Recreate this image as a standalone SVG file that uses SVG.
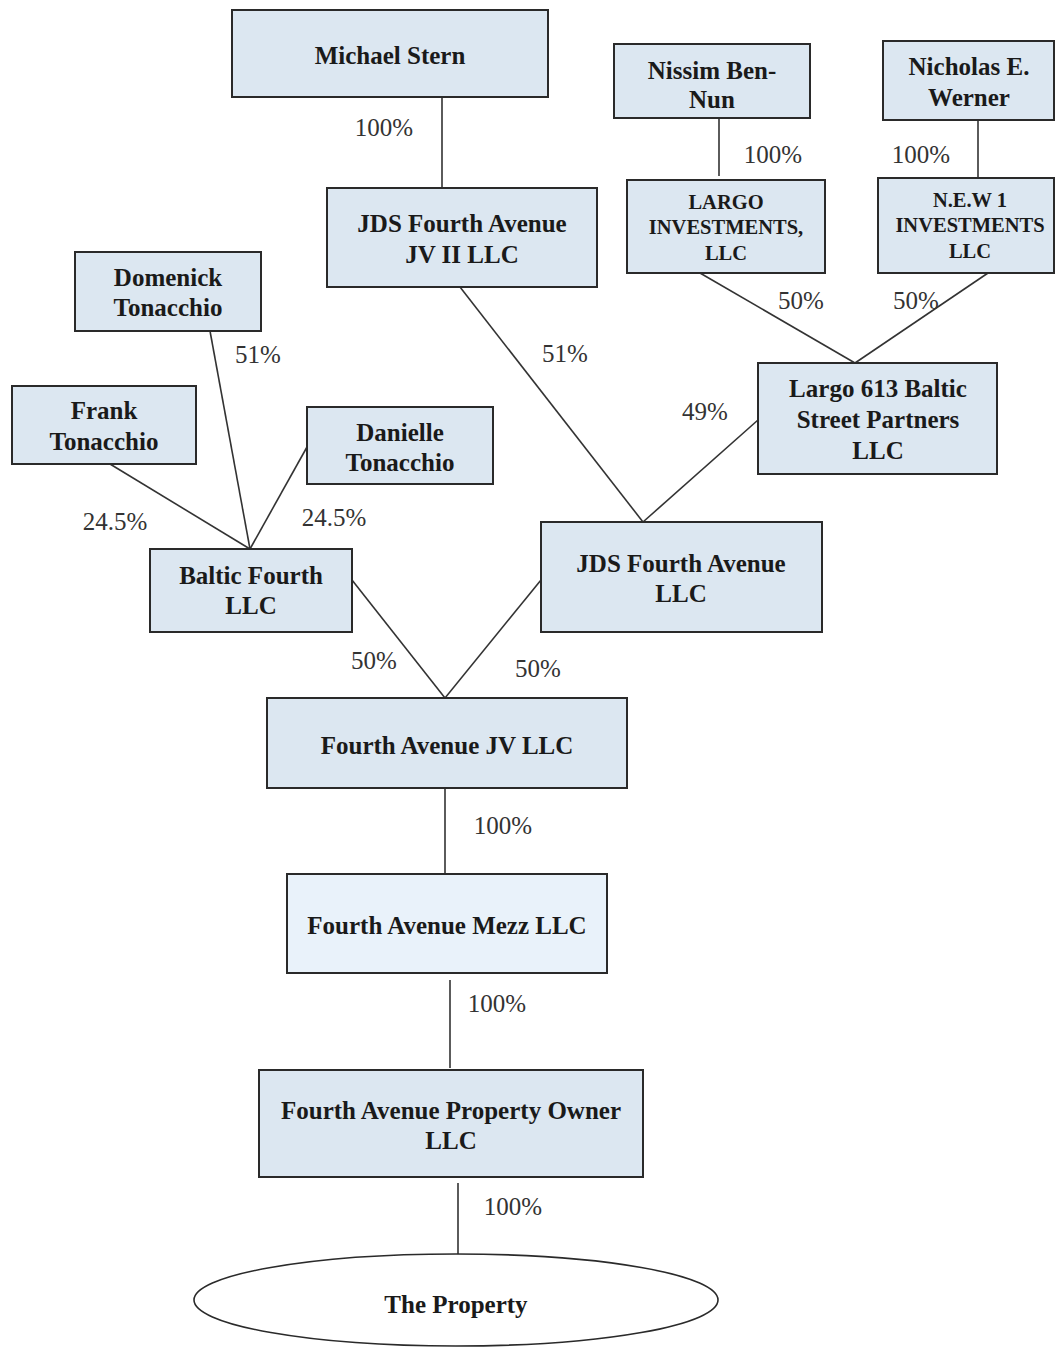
<svg xmlns="http://www.w3.org/2000/svg" width="1055" height="1347" viewBox="0 0 1055 1347">
<style>
.box{fill:#dce7f1;stroke:#2a2a2a;stroke-width:2}
.light{fill:#e9f2fa}
.t{font-family:"Liberation Serif","Times New Roman",serif;font-weight:bold;font-size:25px;fill:#1a1a1a;text-anchor:middle}
.s{font-size:20.5px}
.p{font-family:"Liberation Serif","Times New Roman",serif;font-size:25px;fill:#333;text-anchor:middle}
.c{stroke:#333;stroke-width:1.6;fill:none}
</style>
<rect width="1055" height="1347" fill="#fff"/>
<g id="connectors">
<line class="c" x1="442" y1="97" x2="442" y2="188"/>
<line class="c" x1="719" y1="118" x2="719" y2="176"/>
<line class="c" x1="978" y1="120" x2="978" y2="178"/>
<line class="c" x1="700" y1="273" x2="855" y2="363"/>
<line class="c" x1="988" y1="273" x2="855" y2="363"/>
<line class="c" x1="460" y1="287" x2="643" y2="522"/>
<line class="c" x1="758" y1="420" x2="643" y2="522"/>
<line class="c" x1="210" y1="331" x2="250" y2="549"/>
<line class="c" x1="110" y1="464" x2="250" y2="549"/>
<line class="c" x1="307" y1="447" x2="250" y2="549"/>
<line class="c" x1="352" y1="580" x2="445" y2="698"/>
<line class="c" x1="541" y1="580" x2="445" y2="698"/>
<line class="c" x1="445" y1="788" x2="445" y2="874"/>
<line class="c" x1="450" y1="980" x2="450" y2="1068"/>
<line class="c" x1="458" y1="1183" x2="458" y2="1254"/>
<text class="p" x="384" y="136">100%</text>
<text class="p" x="773" y="163">100%</text>
<text class="p" x="921" y="163">100%</text>
<text class="p" x="801" y="309">50%</text>
<text class="p" x="916" y="309">50%</text>
<text class="p" x="565" y="362">51%</text>
<text class="p" x="705" y="420">49%</text>
<text class="p" x="258" y="363">51%</text>
<text class="p" x="115" y="530">24.5%</text>
<text class="p" x="334" y="526">24.5%</text>
<text class="p" x="374" y="669">50%</text>
<text class="p" x="538" y="677">50%</text>
<text class="p" x="503" y="834">100%</text>
<text class="p" x="497" y="1012">100%</text>
<text class="p" x="513" y="1215">100%</text>
</g>
<g id="michael-stern"><rect class="box" x="232" y="10" width="316" height="87"/><text class="t" x="390" y="64">Michael Stern</text></g>
<g id="jds-jv-ii"><rect class="box" x="327" y="188" width="270" height="99"/><text class="t" x="462" y="232">JDS Fourth Avenue</text><text class="t" x="462" y="263">JV II LLC</text></g>
<g id="nissim"><rect class="box" x="614" y="44" width="196" height="74"/><text class="t" x="712" y="79">Nissim Ben-</text><text class="t" x="712" y="108">Nun</text></g>
<g id="nicholas"><rect class="box" x="883" y="41" width="171" height="79"/><text class="t" x="969" y="75">Nicholas E.</text><text class="t" x="969" y="106">Werner</text></g>
<g id="largo-investments"><rect class="box" x="627" y="180" width="198" height="93"/><text class="t s" x="726" y="209">LARGO</text><text class="t s" x="726" y="234">INVESTMENTS,</text><text class="t s" x="726" y="260">LLC</text></g>
<g id="new1"><rect class="box" x="878" y="178" width="176" height="95"/><text class="t s" x="970" y="207">N.E.W  1</text><text class="t s" x="970" y="232">INVESTMENTS</text><text class="t s" x="970" y="258">LLC</text></g>
<g id="largo-613"><rect class="box" x="758" y="363" width="239" height="111"/><text class="t" x="878" y="397">Largo 613 Baltic</text><text class="t" x="878" y="428">Street Partners</text><text class="t" x="878" y="459">LLC</text></g>
<g id="domenick"><rect class="box" x="75" y="252" width="186" height="79"/><text class="t" x="168" y="286">Domenick</text><text class="t" x="168" y="316">Tonacchio</text></g>
<g id="frank"><rect class="box" x="12" y="386" width="184" height="78"/><text class="t" x="104" y="419">Frank</text><text class="t" x="104" y="450">Tonacchio</text></g>
<g id="danielle"><rect class="box" x="307" y="407" width="186" height="77"/><text class="t" x="400" y="441">Danielle</text><text class="t" x="400" y="471">Tonacchio</text></g>
<g id="baltic-fourth"><rect class="box" x="150" y="549" width="202" height="83"/><text class="t" x="251" y="584">Baltic Fourth</text><text class="t" x="251" y="614">LLC</text></g>
<g id="jds-fourth"><rect class="box" x="541" y="522" width="281" height="110"/><text class="t" x="681" y="572">JDS Fourth Avenue</text><text class="t" x="681" y="602">LLC</text></g>
<g id="fourth-jv"><rect class="box" x="267" y="698" width="360" height="90"/><text class="t" x="447" y="754">Fourth Avenue JV LLC</text></g>
<g id="mezz"><rect class="box light" x="287" y="874" width="320" height="99"/><text class="t" x="447" y="934">Fourth Avenue Mezz LLC</text></g>
<g id="property-owner"><rect class="box" x="259" y="1070" width="384" height="107"/><text class="t" x="451" y="1119">Fourth Avenue Property Owner</text><text class="t" x="451" y="1149">LLC</text></g>
<g id="property"><ellipse cx="456" cy="1300" rx="262" ry="46" fill="#fff" stroke="#2a2a2a" stroke-width="1.6"/><text class="t" x="456" y="1313">The Property</text></g>
</svg>
